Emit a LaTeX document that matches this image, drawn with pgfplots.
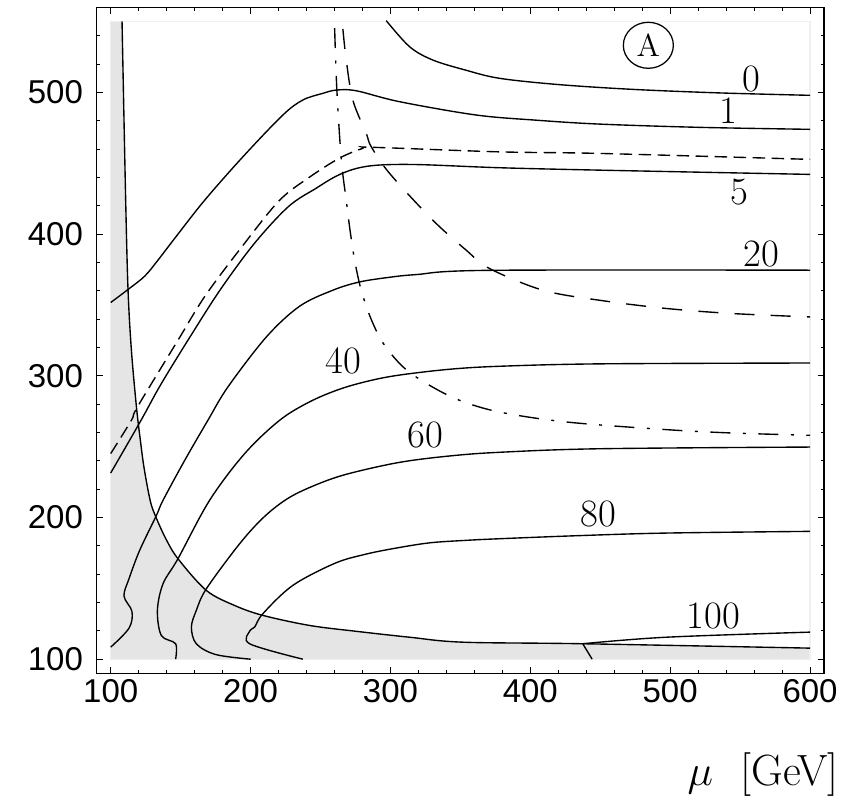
\documentclass[border=0pt]{standalone}
\usepackage{fontspec}
\usepackage{pgfplots}
\pgfplotsset{compat=1.18}
\newfontfamily\ticksf{Liberation Sans}

\begin{document}
\begin{tikzpicture}
\begin{axis}[
    scale only axis,
    width=290.9pt, height=266.4pt,
    xmin=90, xmax=610, ymin=90, ymax=560,
    xtick={100,200,...,600}, ytick={100,200,...,500},
    minor xtick={120,140,...,580}, minor ytick={120,140,...,540},
    tick align=inside,
    major tick length=2.6pt, minor tick length=1.4pt,
    tick style={black, line width=0.4pt},
    axis line style={line width=0.5pt},
    tick label style={font=\ticksf\fontsize{13.2}{14}\selectfont},
    /pgf/number format/assume math mode=true,
    xticklabel style={yshift=1pt},
    yticklabel style={xshift=-2pt},
    xlabel={$\mu$\hspace{11pt}[GeV]},
    x label style={at={(axis description cs:1.021,-0.1677)}, anchor=base east,
                   inner sep=0pt, font=\fontsize{17.5}{17.5}\selectfont},
    clip=false,
    every axis plot/.append style={line width=0.55pt},
]
\coordinate (bl) at (rel axis cs:-0.133,-0.1797);
\coordinate (tr) at (rel axis cs:1.0536,1.011);

% excluded (shaded) region
\addplot[draw=none, fill=black!10] coordinates {
    (100,550) (108.1,550.0) (110.7,423.9) (112.4,360.4) (114.8,318.0) (118.4,278.0)
    (121.2,254.5) (123.9,234.7) (128.2,212.1) (131.8,201.5) (139.3,185.2)
    (148.1,170.9) (168.4,148.5) (188.6,137.9) (208.8,130.9) (242.2,123.8)
    (274.4,119.8) (313.7,115.5) (351.8,112.0) (437.5,110.9) (600.0,107.8)
    (600,100) (100,100)
};
\draw[black!6, line width=0.5pt] (axis cs:100,100) rectangle (axis cs:600,550);
\addplot[black, smooth, tension=0.55] coordinates {
    (108.1,550.0) (110.7,423.9) (112.4,360.4) (114.8,318.0) (118.4,278.0)
    (121.2,254.5) (123.9,234.7) (128.2,212.1) (131.8,201.5) (139.3,185.2)
    (148.1,170.9) (168.4,148.5) (188.6,137.9) (208.8,130.9) (242.2,123.8)
    (274.4,119.8) (313.7,115.5) (351.8,112.0) (437.5,110.9) (600.0,107.8)
};

% 0
\addplot[black, smooth, tension=0.55] coordinates {
    (297.0,550.6) (313.7,532.2) (330.3,522.8) (353.7,515.7) (378.0,509.9)
    (420.0,505.5) (473.2,502.1) (535.2,499.6) (600.0,497.9)
};
% 1
\addplot[black, smooth, tension=0.55] coordinates {
    (100.0,351.7) (112.4,360.9) (124.3,370.3) (133.8,381.6) (145.7,396.9)
    (167.2,423.9) (194.5,454.5) (223.1,484.0) (237.4,494.6) (251.7,499.3)
    (261.3,501.6) (275.6,501.1) (306.5,493.4) (361.3,484.0) (405.0,480.3)
    (449.4,477.6) (520.9,475.3) (600.0,473.9)
};
% short dashed
\addplot[black, smooth, tension=0.55, dash pattern=on 5pt off 2.6pt] coordinates {
    (100.0,245.1) (114.8,268.6) (119.1,278.0) (148.1,325.1) (167.9,356.9)
    (195.8,393.6) (220.8,423.9) (242.2,440.2) (263.6,453.6) (280.3,460.5)
    (287.4,461.2) (378.0,458.0) (449.4,456.9) (600.0,452.7)
};
% 5
\addplot[black, smooth, tension=0.55] coordinates {
    (100.0,231.4) (121.3,267.9) (136.2,294.5) (157.9,329.3) (178.6,361.1)
    (202.9,393.6) (227.2,419.5) (247.0,432.4) (261.3,440.9) (275.6,446.3)
    (292.2,448.7) (320.8,449.0) (378.0,446.8) (449.4,445.1) (600.0,442.1)
};
% 20
\addplot[black, smooth, tension=0.55] coordinates {
    (100.0,108.5) (113.1,121.9) (115.2,133.7) (109.5,144.5) (113.1,156.8)
    (120.7,176.8) (132.7,201.5) (137.4,212.1) (152.9,240.3) (169.5,268.6)
    (183.8,292.1) (211.3,327.4) (235.1,349.1) (258.9,360.4) (277.9,366.2)
    (299.4,369.5) (318.4,371.4) (370.8,374.4) (600.0,374.5)
};
% 40
\addplot[black, smooth, tension=0.55] coordinates {
    (146.4,100.0) (146.4,110.9) (136.2,116.7) (133.4,134.4) (137.4,153.2)
    (148.1,170.9) (170.7,212.1) (195.8,245.1) (220.8,268.6) (242.2,281.6)
    (263.6,290.5) (285.1,296.5) (306.5,300.5) (342.3,304.6) (378.0,306.7)
    (449.4,308.4) (600.0,309.0)
};
% 60
\addplot[black, smooth, tension=0.55] coordinates {
    (200.0,100.0) (175.0,103.3) (161.2,110.9) (157.7,122.6) (161.2,134.4)
    (168.4,149.7) (192.2,181.5) (210.1,200.8) (227.9,214.2) (249.4,224.1)
    (270.8,231.1) (306.5,238.9) (342.3,243.4) (378.0,246.0) (449.4,248.5)
    (600.0,249.7)
};
% 80
\addplot[black, smooth, tension=0.55] coordinates {
    (237.4,100.0) (199.3,110.9) (199.7,120.3) (202.9,122.6) (208.8,132.1)
    (230.1,152.0) (260.1,167.6) (281.5,173.9) (302.9,178.2) (328.0,182.1)
    (353.0,183.8) (378.0,185.0) (435.1,187.2) (497.1,189.0) (600.0,190.2)
};
% 100
\addplot[black, smooth, tension=0.55] coordinates {
    (437.5,110.9) (497.1,115.5) (600.0,119.1)
};
\addplot[black] coordinates {(437.5,110.9) (444.2,100.0)};
% long dashed
\addplot[black, smooth, tension=0.55, dash pattern=on 8pt off 6.5pt] coordinates {
    (266.0,544.7) (268.4,522.8) (273.1,494.6) (282.7,471.0) (286.3,461.6)
    (299.4,442.8) (330.3,409.8) (354.2,388.6) (370.8,375.7) (408.9,360.4)
    (449.4,353.3) (497.1,347.5) (544.7,343.9) (600.0,341.5)
};
% dash-dotted
\addplot[black, smooth, tension=0.55, dash pattern=on 8pt off 5pt on 1.2pt off 5pt] coordinates {
    (260.1,545.4) (261.7,501.6) (264.9,452.2) (268.4,423.9) (271.1,402.8)
    (274.4,381.6) (279.1,360.4) (286.5,339.2) (295.8,321.5) (310.1,305.3)
    (327.9,293.3) (349.4,282.7) (378.0,274.4) (425.6,267.4) (497.1,262.0)
    (544.7,259.6) (600.0,258.0)
};

% contour labels
\begin{scope}[every node/.style={font=\fontsize{15.5}{15.5}\selectfont, inner sep=0pt}]
\node at (axis cs:558.1,509.2) {0};
\node at (axis cs:541.8,486.9) {1};
\node at (axis cs:549.5,429.8) {5};
\node at (axis cs:565.4,385.8) {20};
\node at (axis cs:266.5,310.5) {40};
\node at (axis cs:324.9,258.0) {60};
\node at (axis cs:448.7,202.2) {80};
\node at (axis cs:531.1,130.4) {100};
\end{scope}
\draw[line width=0.5pt] (axis cs:484.4,533.2) ellipse [x radius=10pt, y radius=9.2pt];
\node[font=\fontsize{12.7}{12.7}\selectfont, inner sep=0pt] at (axis cs:484.4,533.2) {A};
\end{axis}
\path (bl) rectangle (tr);
\end{tikzpicture}
\end{document}
